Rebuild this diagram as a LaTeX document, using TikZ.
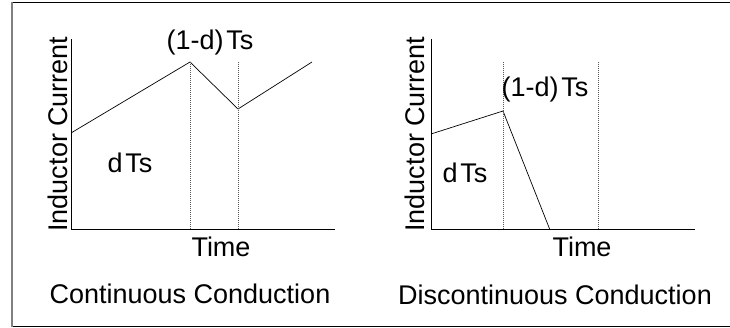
\documentclass[tikz,border=0pt]{standalone}
\usepackage{fontspec}
\setmainfont{Liberation Sans}
\usetikzlibrary{positioning}
\tikzset{every picture/.style={line width=0.75pt}}
\tikzset{
  axis/.style={line width=1pt},
  wave/.style={line width=0.7pt},
  guide/.style={gray!70!black, line width=0.6pt, dash pattern=on 1pt off 1pt},
  lbl/.style={font=\fontsize{27}{29}\selectfont, inner sep=0pt},
}

\begin{document}
\begin{tikzpicture}[x=1pt,y=-1pt]
    \useasboundingbox (0,0) rectangle (730,328);
    % frame
    \draw[line width=1.5pt] (11,2.5) -- (730,2.5);
    \draw[line width=1.5pt] (11,326.5) -- (730,326.5);
    \draw[line width=2pt, gray] (11.5,1.75) -- (11.5,327.25);
    % continuous conduction
    \coordinate (cO) at (71,230);
    \coordinate (cY) at (71,39);
    \coordinate (cX) at (335,230);
    \coordinate (c0) at (71,133);
    \coordinate (c1) at (190,62);
    \coordinate (c2) at (238,109);
    \coordinate (c3) at (312,62);
    \coordinate (c1b) at (190,230);
    \coordinate (c2t) at (238,62);
    \coordinate (c2b) at (238,230);
    \draw[axis] (cY) -- (cO) -- (cX);
    \draw[wave] (c0) -- (c1) -- (c2) -- (c3);
    \draw[guide] (c1) -- (c1b);
    \draw[guide] (c2t) -- (c2b);
    \node[lbl, rotate=90] (cylab) at (58,134) {Inductor Current};
    \node[lbl] (cdts) at (130,163) {d\hspace{0.1em}Ts};
    \node[lbl] (c1dts) at (210,43) {(1-d)\hspace{0.1em}Ts};
    \node[lbl] (ctime) at (221,247) {Time};
    \node[lbl] (ctitle) at (190,294) {Continuous Conduction};
    % discontinuous conduction
    \coordinate (dO) at (431,230);
    \coordinate (dY) at (431,39);
    \coordinate (dX) at (695,230);
    \coordinate (d0) at (431,134);
    \coordinate (d1) at (503,111);
    \coordinate (d2) at (550,230);
    \coordinate (d1t) at (503,62);
    \coordinate (d1b) at (503,230);
    \coordinate (d3t) at (598,62);
    \coordinate (d3b) at (598,230);
    \draw[axis] (dY) -- (dO) -- (dX);
    \draw[wave] (d0) -- (d1) -- (d2);
    \draw[guide] (d1t) -- (d1b);
    \draw[guide] (d3t) -- (d3b);
    \node[lbl, rotate=90] (dylab) at (415,134) {Inductor Current};
    \node[lbl] (ddts) at (465,173) {d\hspace{0.1em}Ts};
    \node[lbl] (d1dts) at (545,90) {(1-d)\hspace{0.1em}Ts};
    \node[lbl] (dtime) at (582,247) {Time};
    \node[lbl] (dtitle) at (555,295) {Discontinuous Conduction};
\end{tikzpicture}
\end{document}
